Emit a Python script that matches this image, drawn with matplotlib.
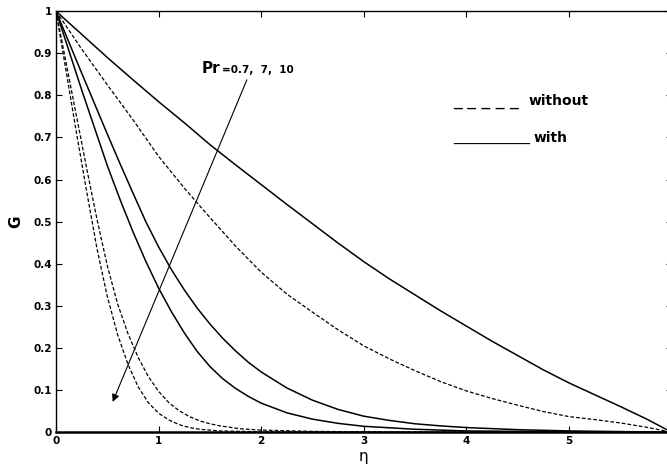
import matplotlib
matplotlib.use("Agg")
import matplotlib.pyplot as plt

# Pr = 0.7 (with / without)
eta_s1 = [0, 0.25, 0.5, 0.75, 1.0, 1.25, 1.5, 1.75, 2.0, 2.25, 2.5, 2.75, 3.0, 3.25, 3.5,
          3.75, 4.0, 4.25, 4.5, 4.75, 5.0, 5.25, 5.5, 5.75, 6.0]
g_s1 = [1, 0.945, 0.89, 0.837, 0.785, 0.735, 0.683, 0.635, 0.588, 0.541, 0.495, 0.449, 0.405,
        0.364, 0.326, 0.288, 0.252, 0.216, 0.182, 0.148, 0.117, 0.089, 0.061, 0.032, 0.0]
eta_d1 = [0, 0.25, 0.5, 0.75, 1.0, 1.25, 1.5, 1.75, 2.0, 2.25, 2.5, 2.75, 3.0, 3.25, 3.5,
          3.75, 4.0, 4.25, 4.5, 4.75, 5.0, 5.25, 5.5, 5.75, 6.0]
g_d1 = [1, 0.91, 0.825, 0.742, 0.655, 0.58, 0.51, 0.442, 0.38, 0.328, 0.285, 0.243, 0.205,
        0.174, 0.146, 0.12, 0.098, 0.08, 0.064, 0.049, 0.037, 0.03, 0.022, 0.012, 0.0]
# Pr = 7 (with / without)
eta_s2 = [0, 0.25, 0.5, 0.625, 0.75, 0.875, 1.0, 1.125, 1.25, 1.375, 1.5, 1.625, 1.75, 1.875,
          2.0, 2.25, 2.5, 2.75, 3.0, 3.25, 3.5, 3.75, 4.0, 4.5, 5.0, 5.5, 6.0]
g_s2 = [1, 0.853, 0.708, 0.637, 0.568, 0.5, 0.44, 0.386, 0.338, 0.295, 0.257, 0.223, 0.193,
        0.166, 0.143, 0.105, 0.076, 0.054, 0.038, 0.028, 0.02, 0.015, 0.011, 0.006, 0.003,
        0.0015, 0.0]
eta_d2 = [0, 0.1, 0.2, 0.3, 0.4, 0.5, 0.6, 0.7, 0.8, 0.9, 1.0, 1.1, 1.2, 1.3, 1.4, 1.5, 1.6,
          1.8, 2.0, 2.5, 3.0, 4.0, 6.0]
g_d2 = [1, 0.875, 0.75, 0.625, 0.505, 0.395, 0.305, 0.235, 0.178, 0.132, 0.097, 0.07, 0.051,
        0.037, 0.027, 0.02, 0.015, 0.008, 0.005, 0.002, 0.001, 0.0003, 0.0]
# Pr = 10 (with / without)
eta_s3 = [0, 0.25, 0.5, 0.625, 0.75, 0.875, 1.0, 1.125, 1.25, 1.375, 1.5, 1.625, 1.75, 1.875,
          2.0, 2.25, 2.5, 2.75, 3.0, 3.5, 4.0, 5.0, 6.0]
g_s3 = [1, 0.813, 0.633, 0.552, 0.476, 0.406, 0.342, 0.286, 0.236, 0.192, 0.156, 0.127,
        0.104, 0.085, 0.069, 0.046, 0.031, 0.021, 0.014, 0.007, 0.003, 0.001, 0.0]
eta_d3 = [0, 0.1, 0.2, 0.3, 0.4, 0.5, 0.6, 0.7, 0.8, 0.9, 1.0, 1.1, 1.2, 1.3, 1.4, 1.6, 2.0, 3.0, 6.0]
g_d3 = [1, 0.855, 0.71, 0.57, 0.435, 0.322, 0.232, 0.162, 0.108, 0.07, 0.045, 0.029, 0.018,
        0.011, 0.007, 0.003, 0.001, 0.0002, 0.0]

xticks = [0, 1, 2, 3, 4, 5]
yticks = [0, 0.1, 0.2, 0.3, 0.4, 0.5, 0.6, 0.7, 0.8, 0.9, 1.0]
ytick_labels = ["0", "0.1", "0.2", "0.3", "0.4", "0.5", "0.6", "0.7", "0.8", "0.9", "1"]

fig = plt.figure(figsize=(6.67, 4.76), dpi=100)
ax = fig.add_axes([0.084, 0.092, 0.923, 0.8845])

dash = (0, (3.0, 1.6))
for e, g in [(eta_s1, g_s1), (eta_s2, g_s2), (eta_s3, g_s3)]:
    ax.plot(e, g, color="black", lw=1.1, solid_joinstyle="round")
for e, g in [(eta_d1, g_d1), (eta_d2, g_d2), (eta_d3, g_d3)]:
    ax.plot(e, g, color="black", lw=0.9, linestyle=dash)

ax.set_xlim(0, 6)
ax.set_ylim(0, 1)
ax.set_xticks(xticks)
ax.set_xticklabels([str(t) for t in xticks], fontweight="bold", fontsize=7.5)
ax.set_yticks(yticks)
ax.set_yticklabels(ytick_labels, fontweight="bold", fontsize=7.5)
ax.tick_params(direction="in", length=4, width=0.8, top=True, right=True, pad=3)
for s in ["left", "top", "right"]:
    ax.spines[s].set_linewidth(1.0)
ax.spines["bottom"].set_linewidth(1.8)

ax.set_xlabel("η", fontsize=11, labelpad=2)
ax.set_ylabel("G", fontsize=11, fontweight="bold", labelpad=7)

ax.annotate("", xy=(0.552, 0.072), xytext=(1.86, 0.837),
            arrowprops=dict(arrowstyle="-|>", lw=0.8, color="black",
                            mutation_scale=11, shrinkA=0, shrinkB=0))
ax.text(1.42, 0.863, "Pr", fontsize=11, fontweight="bold", va="center", ha="left")
ax.text(1.62, 0.860, "=0.7,  7,  10", fontsize=7.5, fontweight="bold", va="center", ha="left")

ax.text(3.87, 0.777, "_ _ _ _ _", fontsize=12.5, va="baseline", ha="left")
ax.text(4.6, 0.777, "without", fontsize=10, fontweight="bold", va="baseline", ha="left")
ax.text(3.87, 0.689, "___________", fontsize=10, va="baseline", ha="left")
ax.text(4.65, 0.689, "with", fontsize=10, fontweight="bold", va="baseline", ha="left")

fig.savefig("out.png", dpi=100)
